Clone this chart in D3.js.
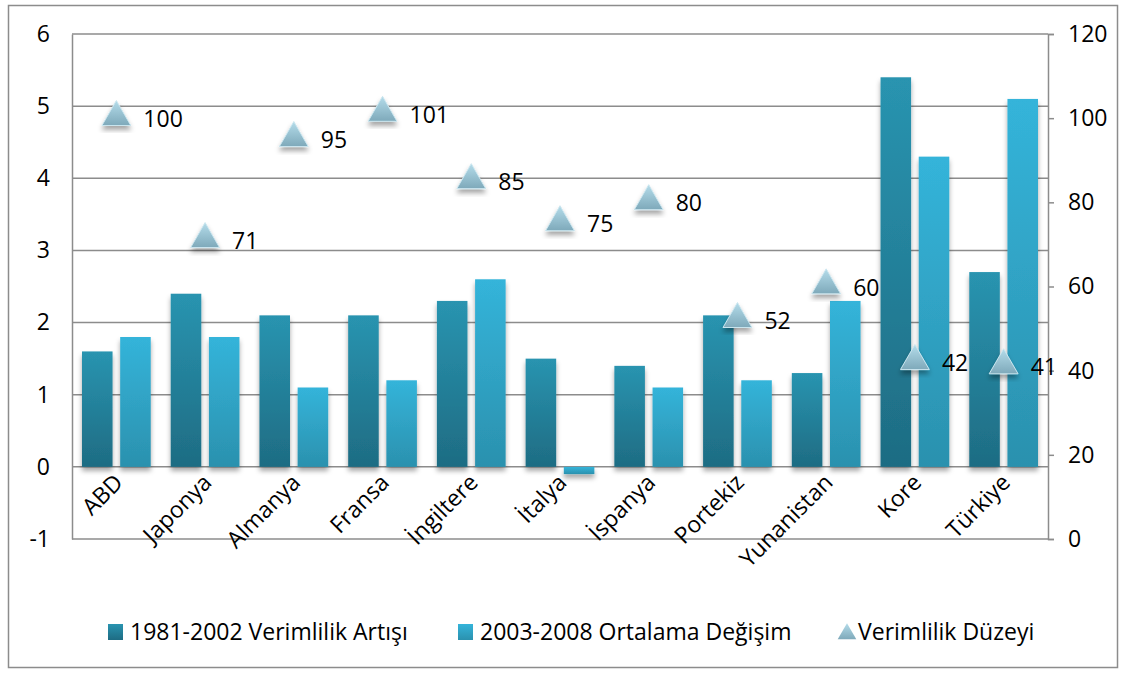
<!DOCTYPE html>
<html>
<head>
<meta charset="utf-8">
<script src="https://cdn.jsdelivr.net/npm/d3@7"></script>
<style>
  body { margin: 0; background: #fff; }
  text { font-family: "Open Sans", sans-serif; fill: #000; }
</style>
</head>
<body>
<svg id="chart" width="1125" height="673"></svg>
<script>
// chart data
const countries = ['ABD', 'Japonya', 'Almanya', 'Fransa', 'İngiltere', 'İtalya', 'İspanya', 'Portekiz', 'Yunanistan', 'Kore', 'Türkiye'];
const growth8102 = [1.6, 2.4, 2.1, 2.1, 2.3, 1.5, 1.4, 2.1, 1.3, 5.4, 2.7];
const change0308 = [1.8, 1.8, 1.1, 1.2, 2.6, -0.1, 1.1, 1.2, 2.3, 4.3, 5.1];
const level = [100, 71, 95, 101, 85, 75, 80, 52, 60, 42, 41];
const leftTicks = [-1, 0, 1, 2, 3, 4, 5, 6];
const rightTicks = [0, 20, 40, 60, 80, 100, 120];
const seriesNames = ['1981-2002 Verimlilik Artışı', '2003-2008 Ortalama Değişim', 'Verimlilik Düzeyi'];

const svg = d3.select('#chart');
const margin = { left: 72, right: 1048, top: 34, bottom: 539 };
const fs = 23;

// outer frame
svg.append('rect')
  .attr('x', 8.5).attr('y', 5.5)
  .attr('width', 1109).attr('height', 662)
  .attr('fill', 'none').attr('stroke', '#8c8c8c').attr('stroke-width', 1.5);

const defs = svg.append('defs');
function vGrad(id, top, bottom) {
  const g = defs.append('linearGradient').attr('id', id)
    .attr('x1', 0).attr('y1', 0).attr('x2', 0).attr('y2', 1);
  g.append('stop').attr('offset', '0%').attr('stop-color', top);
  g.append('stop').attr('offset', '100%').attr('stop-color', bottom);
}
vGrad('gDark', '#2994b0', '#1e6c83');
vGrad('gLight', '#34b4da', '#2b91ae');
vGrad('gTri', '#b4dcea', '#7ea9ba');

const shadow = defs.append('filter').attr('id', 'shadow')
  .attr('x', '-30%').attr('y', '-30%').attr('width', '160%').attr('height', '160%');
shadow.append('feDropShadow')
  .attr('dx', 0).attr('dy', 4).attr('stdDeviation', 2.5)
  .attr('flood-color', '#000').attr('flood-opacity', 0.35);

const x = d3.scaleBand().domain(countries).range([margin.left, margin.right]);
const y = d3.scaleLinear().domain([-1, 6]).range([margin.bottom, margin.top]);
const y2 = d3.scaleLinear().domain([0, 120]).range([margin.bottom, margin.top]);
const sub = d3.scaleBand().domain([0, 1]).range([10, x.bandwidth() - 10]).paddingInner(0.2);

// gridlines
svg.append('g').selectAll('line').data(leftTicks).join('line')
  .attr('x1', margin.left).attr('x2', margin.right)
  .attr('y1', d => y(d)).attr('y2', d => y(d))
  .attr('stroke', '#8c8c8c').attr('stroke-width', 1.5);

// left axis
const leftAxis = svg.append('g').attr('transform', `translate(${margin.left},0)`)
  .call(d3.axisLeft(y).tickValues(leftTicks).tickSize(0).tickPadding(22).tickFormat(d => String(d)));
leftAxis.select('.domain').attr('stroke', '#8c8c8c').attr('stroke-width', 1.5);
leftAxis.selectAll('text').attr('font-size', fs).style('font-family', '"Open Sans", sans-serif');

// right axis
const rightAxis = svg.append('g').attr('transform', `translate(${margin.right},0)`)
  .call(d3.axisRight(y2).tickValues(rightTicks).tickSize(6).tickPadding(14));
rightAxis.selectAll('path, line').attr('stroke', '#8c8c8c').attr('stroke-width', 1.5);
rightAxis.selectAll('text').attr('font-size', fs).style('font-family', '"Open Sans", sans-serif');

// bars
const barGroups = [
  { vals: growth8102, fill: 'url(#gDark)', k: 0 },
  { vals: change0308, fill: 'url(#gLight)', k: 1 }
];
barGroups.forEach(s => {
  svg.append('g').attr('filter', 'url(#shadow)')
    .selectAll('rect').data(countries).join('rect')
    .attr('x', (c) => x(c) + sub(s.k))
    .attr('width', sub.bandwidth())
    .attr('y', (c, i) => y(Math.max(0, s.vals[i])))
    .attr('height', (c, i) => Math.abs(y(s.vals[i]) - y(0)))
    .attr('fill', s.fill);
});

// triangles
const tri = d3.symbol().type(d3.symbolTriangle).size(360);
const markers = svg.append('g');
markers.selectAll('path').data(countries).join('path')
  .attr('d', tri)
  .attr('transform', (c, i) => `translate(${x(c) + x.bandwidth() / 2},${y2(level[i]) - 1})`)
  .attr('fill', 'url(#gTri)')
  .attr('stroke', '#cbe6ef').attr('stroke-width', 1)
  .attr('filter', 'url(#shadow)');
markers.selectAll('text').data(countries).join('text')
  .attr('x', c => x(c) + x.bandwidth() / 2 + 27)
  .attr('y', (c, i) => y2(level[i]) + 9)
  .attr('font-size', fs)
  .text((c, i) => level[i]);

// category labels
svg.append('g').selectAll('text').data(countries).join('text')
  .attr('transform', c => `translate(${x(c) + x.bandwidth() / 2 + 8},${y(0) + 17}) rotate(-45)`)
  .attr('text-anchor', 'end')
  .attr('font-size', fs)
  .text(c => c);

// legend
const legend = svg.append('g').attr('transform', 'translate(0,632)');
const legendItems = [
  { x: 108, fill: 'url(#gDark)', type: 'rect' },
  { x: 458, fill: 'url(#gLight)', type: 'rect' },
  { x: 838, fill: 'url(#gTri)', type: 'tri' }
];
legendItems.forEach((it, i) => {
  if (it.type === 'rect') {
    legend.append('rect').attr('x', it.x).attr('y', -8).attr('width', 15).attr('height', 16).attr('fill', it.fill);
  } else {
    legend.append('path').attr('d', d3.symbol().type(d3.symbolTriangle).size(150))
      .attr('transform', `translate(${it.x + 9},2)`).attr('fill', it.fill);
  }
  legend.append('text').attr('x', it.x + (it.type === 'rect' ? 22 : 20)).attr('y', 8)
    .attr('font-size', fs).text(seriesNames[i]);
});
</script>
</body>
</html>
